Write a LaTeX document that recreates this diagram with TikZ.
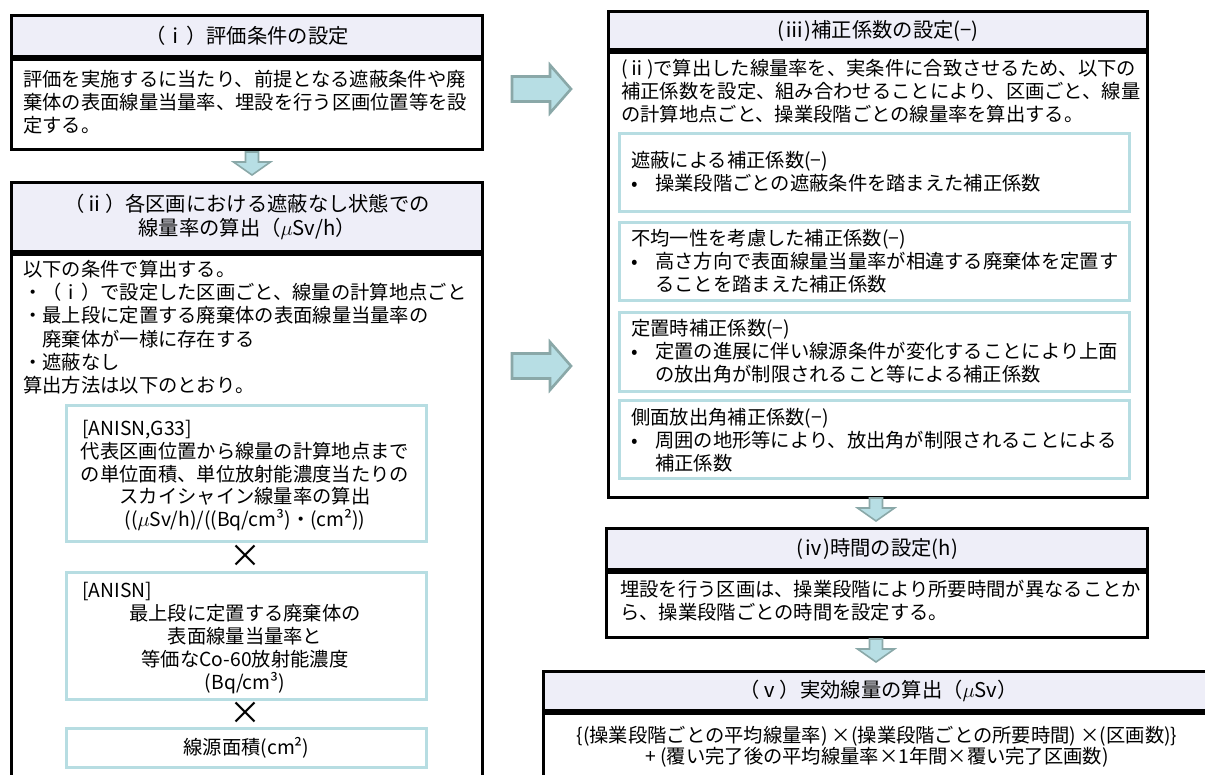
\documentclass[tikz,border=0pt]{standalone}
\usepackage{fontspec}
\setmainfont{Noto Sans CJK JP}
\usepackage{tikz}
\definecolor{titleFill}{RGB}{238,238,248}
\definecolor{innerLine}{RGB}{183,221,226}
\definecolor{arrowFill}{RGB}{183,222,228}
\definecolor{arrowLine}{RGB}{138,168,168}
\newcommand{\muSv}[0]{\ensuremath{\mu}Sv}
\newcommand{\jpText}[0]{\fontsize{19.3}{23.2}\selectfont}
\newcommand{\titleText}[0]{\fontsize{20.3}{23.8}\selectfont}
\newcommand{\crossText}[0]{\fontsize{32}{32}\selectfont}
\newcommand{\downArrow}[2]{\draw[blockArrow] (#1-6.5,#2) -- (#1+6.5,#2) -- (#1+6.5,#2+10) -- (#1+18.5,#2+10) -- (#1,#2+23) -- (#1-18.5,#2+10) -- (#1-6.5,#2+10) -- cycle;}
\newcommand{\rightArrow}[1]{\draw[blockArrow, line width=2.6pt] (512,#1-12.5) -- (550,#1-12.5) -- (550,#1-24) -- (571,#1) -- (550,#1+24) -- (550,#1+12.5) -- (512,#1+12.5) -- cycle;}

\begin{document}
\begin{tikzpicture}[x=1pt, y=-1pt]
  \tikzset{every node/.style={inner sep=0pt, font=\jpText},
    titleBox/.style={draw=black, line width=3.2pt, fill=titleFill, anchor=north west, align=center, font=\titleText},
    frameBox/.style={draw=black, line width=3.2pt, anchor=north west},
    innerBox/.style={draw=innerLine, line width=3pt, anchor=north west},
    leftText/.style={anchor=north west, align=left},
    midText/.style={anchor=north, align=center},
    blockArrow/.style={draw=arrowLine, fill=arrowFill, line width=1.6pt, line join=miter}}
  \useasboundingbox (0,0) rectangle (1205,774);
  \clip (0,0) rectangle (1205,774);

  \node[titleBox, minimum width=471, minimum height=41] (t1) at (10,14) {（ⅰ）評価条件の設定};
  \node[frameBox, minimum width=471, minimum height=90] (f1) at (t1.south west) {};
  \node[leftText] (b1) at (23,70) {評価を実施するに当たり、前提となる遮蔽条件や廃\\
    棄体の表面線量当量率、埋設を行う区画位置等を設\\
    定する。};
  \downArrow{252}{152}

  \node[titleBox, minimum width=471, minimum height=69] (t2) at (10,181)
    {（ⅱ）各区画における遮蔽なし状態での\\線量率の算出（\muSv/h）};
  \node[frameBox, minimum width=471, minimum height=560] (f2) at (t2.south west) {};
  \node[leftText] (b2) at (23,260) {以下の条件で算出する。\\
    ・（ⅰ）で設定した区画ごと、線量の計算地点ごと\\
    ・最上段に定置する廃棄体の表面線量当量率の\\
    \hspace*{19.3pt}廃棄体が一様に存在する\\
    ・遮蔽なし\\
    算出方法は以下のとおり。};

  \node[innerBox, minimum width=360, minimum height=136] (a1) at (65,404) {};
  \node[leftText] (a1tag) at (82,420) {[ANISN,G33]};
  \node[midText, font=\fontsize{19.3}{22.5}\selectfont] (a1txt) at (245,442)
    {代表区画位置から線量の計算地点まで\\
     の単位面積、単位放射能濃度当たりの\\
     スカイシャイン線量率の算出\\
     ((\muSv/h)/((Bq/cm³)・(cm²))};
  \node[font=\crossText] (x1) at (245,556) {×};
  \node[innerBox, minimum width=360, minimum height=127] (a2) at (65,571) {};
  \node[leftText] (a2tag) at (82,582) {[ANISN]};
  \node[midText, font=\fontsize{19.3}{23}\selectfont] (a2txt) at (245,604)
    {最上段に定置する廃棄体の\\
     表面線量当量率と\\
     等価なCo-60放射能濃度\\
     (Bq/cm³)};
  \node[font=\crossText] (x2) at (245,713) {×};
  \node[innerBox, minimum width=360, minimum height=39] (a3) at (65,727) {};
  \node (a3txt) at (a3.center) {線源面積(cm²)};

  \rightArrow{89}
  \rightArrow{366}

  \node[titleBox, minimum width=539, minimum height=38] (t3) at (607,10) {(ⅲ)補正係数の設定(−)};
  \node[frameBox, minimum width=539, minimum height=445] (f3) at (t3.south west) {};
  \node[leftText] (b3) at (621,59) {(ⅱ)で算出した線量率を、実条件に合致させるため、以下の\\
    補正係数を設定、組み合わせることにより、区画ごと、線量\\
    の計算地点ごと、操業段階ごとの線量率を算出する。};
  \node[innerBox, minimum width=510, minimum height=78] (r1) at (618,132) {};
  \node[leftText] (r1txt) at (631,151) {遮蔽による補正係数(−)\\
    \makebox[24pt][l]{•}操業段階ごとの遮蔽条件を踏まえた補正係数};
  \node[innerBox, minimum width=510, minimum height=78] (r2) at (618,221) {};
  \node[leftText] (r2txt) at (631,229) {不均一性を考慮した補正係数(−)\\
    \makebox[24pt][l]{•}高さ方向で表面線量当量率が相違する廃棄体を定置す\\
    \hspace*{24pt}ることを踏まえた補正係数};
  \node[innerBox, minimum width=510, minimum height=79] (r3) at (618,311) {};
  \node[leftText] (r3txt) at (631,319) {定置時補正係数(−)\\
    \makebox[24pt][l]{•}定置の進展に伴い線源条件が変化することにより上面\\
    \hspace*{24pt}の放出角が制限されること等による補正係数};
  \node[innerBox, minimum width=510, minimum height=78] (r4) at (618,399) {};
  \node[leftText] (r4txt) at (631,408) {側面放出角補正係数(−)\\
    \makebox[24pt][l]{•}周囲の地形等により、放出角が制限されることによる\\
    \hspace*{24pt}補正係数};
  \downArrow{876}{498}

  \node[titleBox, minimum width=541, minimum height=41] (t4) at (605,527) {(ⅳ)時間の設定(h)};
  \node[frameBox, minimum width=541, minimum height=65] (f4) at (t4.south west) {};
  \node[leftText] (b4) at (620,580) {埋設を行う区画は、操業段階により所要時間が異なることか\\
    ら、操業段階ごとの時間を設定する。};
  \downArrow{876}{639}

  \node[titleBox, minimum width=670, minimum height=39] (t5) at (542,670) {（ⅴ）実効線量の算出（\muSv）};
  \node[frameBox, minimum width=670, minimum height=120] (f5) at (t5.south west) {};
  \node[midText, font=\fontsize{19.3}{21.5}\selectfont] (b5) at (877,726)
    {\{(操業段階ごとの平均線量率)\ ×(操業段階ごとの所要時間)\ ×(区画数)\}\\
     +\ (覆い完了後の平均線量率×1年間×覆い完了区画数)};
\end{tikzpicture}
\end{document}
